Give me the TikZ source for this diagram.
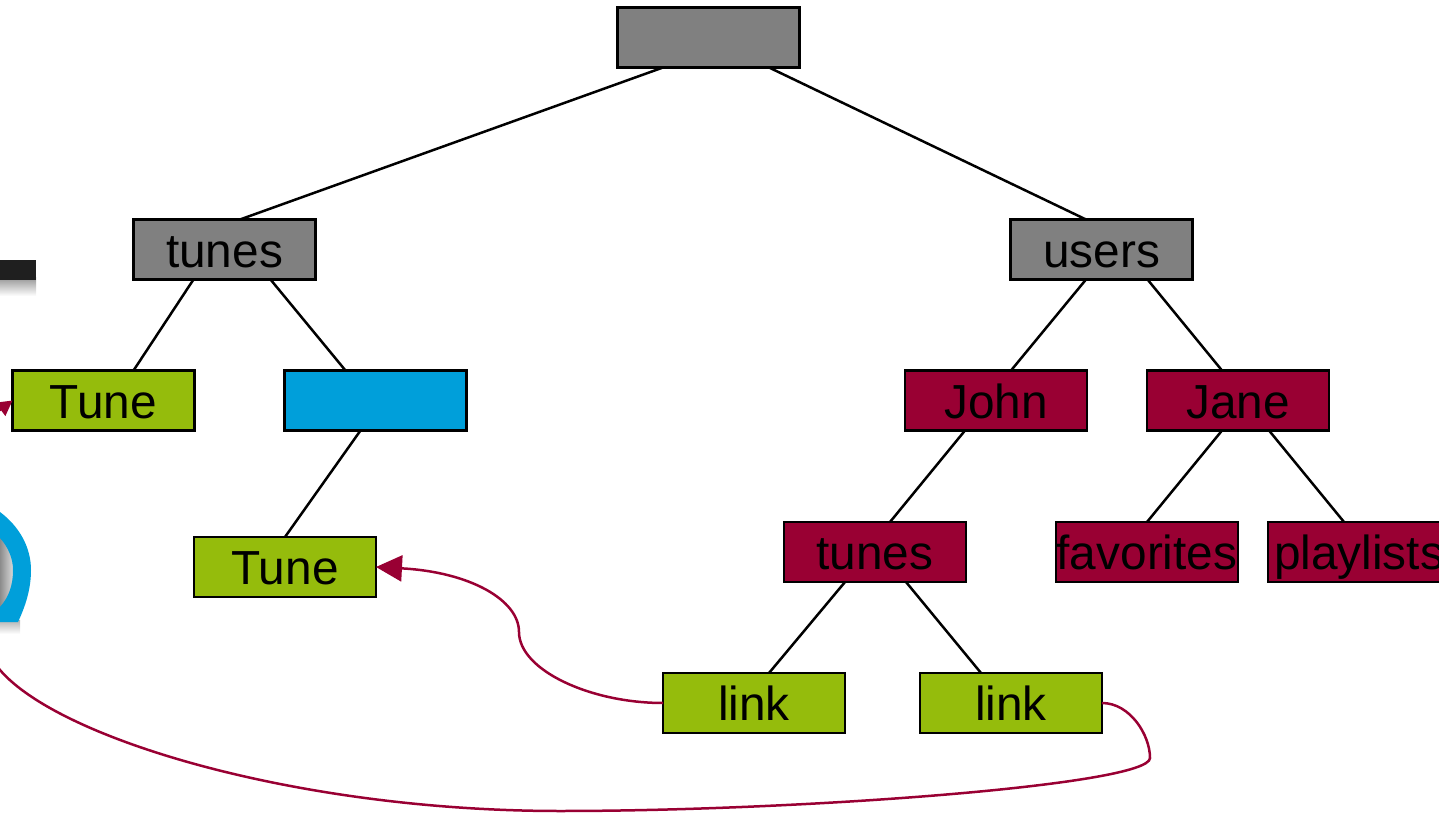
\documentclass[tikz,border=0pt]{standalone}
\usepackage{fontspec}
\setmainfont{Liberation Sans}
\usepackage{xcolor}
\usetikzlibrary{calc}
\usetikzlibrary{arrows.meta}
\definecolor{dirgray}{HTML}{808080}
\definecolor{tuneblue}{HTML}{009FDA}
\definecolor{tunegreen}{HTML}{95BC0C}
\definecolor{wine}{HTML}{990033}
\tikzset{%
    box/.style={%
        draw=black,
        line width=0.045cm,
        minimum width=3.64cm,
        minimum height=1.2cm,
        inner sep=0pt,
        outer sep=0pt,
        text=black,
        text height=0.72cm,
        text depth=0pt,
        font=\fontsize{27.2pt}{30pt}\selectfont
    },
    dirbox/.style={box,fill=dirgray},
    bluebox/.style={box,fill=tuneblue},
    greenbox/.style={box,fill=tunegreen},
    winebox/.style={box,fill=wine},
    branch/.style={line width=0.05cm,black},
    linkline/.style={line width=0.05cm,wine,-{Triangle[length=0.52cm,width=0.52cm]}},
    linksmall/.style={line width=0.05cm,wine,-{Triangle[length=0.3cm,width=0.32cm]}}
}

\begin{document}
\begin{tikzpicture}[x=0.02cm,y=-0.02cm]
    \path[use as bounding box,clip] (0,0) rectangle (1439,813);
    % cut off marks at the left edge
    \shade[top color=black!40,bottom color=white] (0,278) rectangle (36,296);
    \fill[black!88] (0,260) rectangle (36,280);
    \shade[left color=black!45,right color=black!8] (0,535) rectangle (16,612);
    \shade[top color=black!30,bottom color=white] (0,620) rectangle (20,634);
    \fill[tuneblue] (0,512) .. controls (20,527) and (31,548) .. (31,570)
        .. controls (31,590) and (25,607) .. (18,622) -- (0,622) -- (0,607)
        .. controls (9,597) and (13,585) .. (13,570)
        .. controls (13,558) and (8,547) .. (0,538) -- cycle;
    % nodes
    \node[dirbox] (root) at (708.5,37.5) {};
    \node[dirbox] (tunes) at (224.5,249.5) {tunes};
    \node[dirbox] (users) at (1101.5,249.5) {users};
    \node[greenbox] (tuneA) at (103.5,400.5) {Tune};
    \node[bluebox] (album) at (375.5,400.5) {};
    \node[greenbox] (tuneB) at (285,567) {Tune};
    \node[winebox] (john) at (996,400.5) {John};
    \node[winebox] (jane) at (1238,400.5) {Jane};
    \node[winebox] (johntunes) at (875,552) {tunes};
    \node[winebox] (favorites) at (1147,552) {favorites};
    \node[winebox] (playlists) at (1359,552) {playlists};
    \node[greenbox] (linkA) at (754,703) {link};
    \node[greenbox] (linkB) at (1011,703) {link};
    % tree
    \draw[branch] ($(root.south)+(-45.5,0)$)--($(tunes.north)+(15.5,0)$);
    \draw[branch] ($(root.south)+(60.5,0)$)--($(users.north)+(-15.5,0)$);
    \draw[branch] ($(tunes.south)+(-31,0)$)--($(tuneA.north)+(30,0)$);
    \draw[branch] ($(tunes.south)+(46,0)$)--($(album.north)+(-30,0)$);
    \draw[branch] ($(album.south)+(-15,0)$)--(tuneB.north);
    \draw[branch] ($(users.south)+(-15.5,0)$)--($(john.north)+(15,0)$);
    \draw[branch] ($(users.south)+(46,0)$)--($(jane.north)+(-16,0)$);
    \draw[branch] ($(john.south)+(-31,0)$)--($(johntunes.north)+(15,0)$);
    \draw[branch] ($(jane.south)+(-16,0)$)--(favorites.north);
    \draw[branch] ($(jane.south)+(31,0)$)--($(playlists.north)+(-15,0)$);
    \draw[branch] ($(johntunes.south)+(-30,0)$)--($(linkA.north)+(15,0)$);
    \draw[branch] ($(johntunes.south)+(31,0)$)--($(linkB.north)+(-30,0)$);
    % links
    \draw[linkline] (linkA.west) .. controls (590,703) and (519,670) .. (519,632)
        .. controls (519,600) and (470,572) .. (tuneB.east);
    \draw[linksmall] (linkB.east) .. controls (1130,703) and (1150,735) .. (1150,758)
        .. controls (1150,785) and (800,811) .. (560,811)
        .. controls (300,811) and (60,740) .. (0,670)
        .. controls (-40,620) and (-48,445) .. (tuneA.west);
\end{tikzpicture}
\end{document}
